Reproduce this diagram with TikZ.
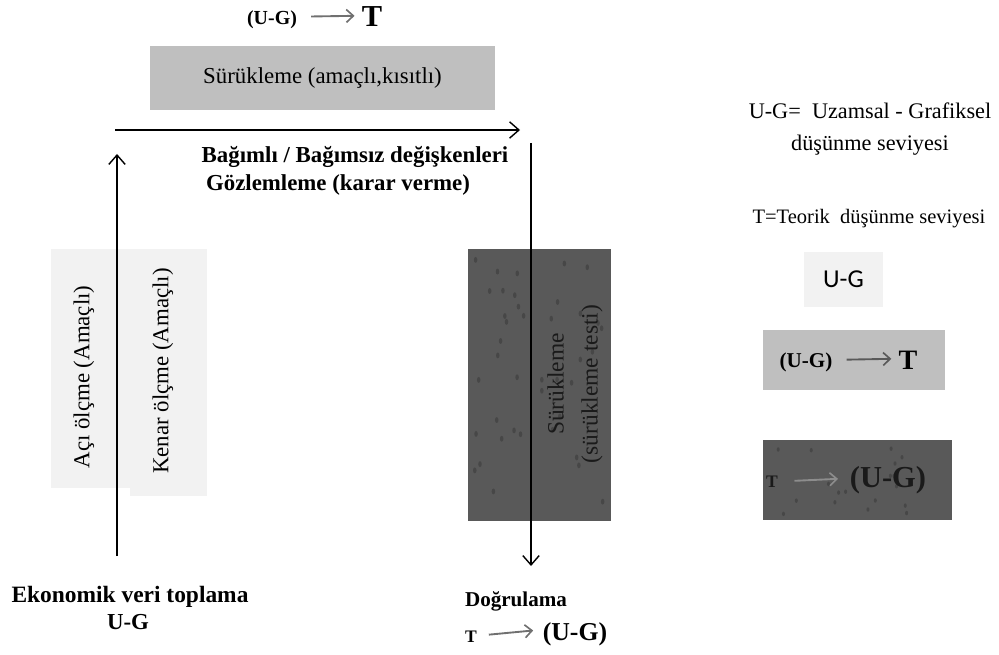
\documentclass[tikz,border=0pt]{standalone}
\usepackage{fontspec}
\setmainfont{Liberation Serif}
\newfontfamily\calib{Carlito}
\usetikzlibrary{arrows.meta}
\definecolor{boxlight}{HTML}{F2F2F2}
\definecolor{boxmid}{HTML}{BFBFBF}
\definecolor{boxdark}{HTML}{595959}
\definecolor{dotc}{HTML}{474747}
\definecolor{txtdark}{HTML}{1A1A1A}
\definecolor{arrgray}{HTML}{707070}
\tikzset{
  lightbox/.style={fill=boxlight, draw=none, inner sep=0pt},
  midbox/.style={fill=boxmid, draw=none, inner sep=0pt},
  darkbox/.style={fill=boxdark, draw=none, inner sep=0pt},
  mainarr/.style={line width=1.2pt, -{Straight Barb[length=8pt,width=14pt,line width=1.2pt]}},
  grayarr/.style={arrgray, line width=1.6pt, -{Straight Barb[length=6pt,width=11pt,line width=1.4pt]}},
  boldtxt/.style={font=\fontsize{19.5}{24}\selectfont\bfseries, align=center, inner sep=0pt},
  regtxt/.style={font=\fontsize{19.5}{26}\selectfont, align=center, inner sep=0pt},
  smallbold/.style={font=\fontsize{15}{17}\selectfont\bfseries, inner sep=0pt},
  bigbold/.style={font=\fontsize{24}{27}\selectfont\bfseries, inner sep=0pt},
}
\begin{document}
\begin{tikzpicture}[x=0.03cm, y=-0.03cm]
\useasboundingbox (0,0) rectangle (999,655);

% top label
\node[smallbold, font=\fontsize{17}{19}\selectfont\bfseries] (ugtop) at (272,20) {(U-G)};
\node[bigbold, font=\fontsize{26}{28}\selectfont\bfseries] (ttop) at (372,17) {T};
\draw[grayarr] ([xshift=12pt,yshift=3pt]ugtop.east) -- ([xshift=-6pt,yshift=1pt]ttop.west);

% top gray box
\node[midbox, minimum width=10.35cm, minimum height=1.92cm] (drag) at (322.5,78) {};
\node[regtxt] (dragtxt) at (drag) {Sürükleme (amaçlı,kısıtlı)};

% decision text
\node[boldtxt] (bag) at (355,157) {Bağımlı / Bağımsız değişkenleri};
\node[boldtxt] (goz) at (338,185) {Gözlemleme (karar verme)};

% left boxes
\node[lightbox, minimum width=2.37cm, minimum height=7.17cm] (aci) at (90.5,368.5) {};
\node[lightbox, minimum width=2.31cm, minimum height=7.41cm] (kenar) at (168.5,372.5) {};
\node[regtxt, rotate=90] (acitxt) at (84,377) {Açı ölçme (Amaçlı)};
\node[regtxt, rotate=90] (kenartxt) at (163,371) {Kenar ölçme (Amaçlı)};

% dark middle box
\node[darkbox, minimum width=4.29cm, minimum height=8.16cm] (test) at (539.5,385) {};
\pgfmathsetseed{11}
\foreach \i in {1,...,40}{
  \fill[dotc] ({474+rnd*132},{256+rnd*258}) ellipse (1.5pt and 2.5pt);
}
\node[regtxt, rotate=90, text=txtdark, font=\fontsize{20}{29}\selectfont] (testtxt) at (575,384) {Sürükleme\\(sürükleme testi)};

% main arrows
\coordinate (hstart) at (115,130);
\coordinate (hend) at (520,130);
\coordinate (upstart) at (117,556);
\coordinate (upend) at (117,154);
\coordinate (dnstart) at (531,143);
\coordinate (dnend) at (531,566);
\draw[mainarr] (hstart) -- (hend);
\draw[mainarr] (upstart) -- (upend);
\draw[mainarr] (dnstart) -- (dnend);

% bottom texts
\node[boldtxt, font=\fontsize{20}{24}\selectfont\bfseries] (eko) at (130,597) {Ekonomik veri toplama};
\node[boldtxt] (ugbot) at (128,622) {U-G};
\node[boldtxt, font=\fontsize{18}{20}\selectfont\bfseries] (dog) at (516,601) {Doğrulama};
\node[smallbold] (tbot) at (471,637) {T};
\node[bigbold, font=\fontsize{22}{25}\selectfont\bfseries] (ugbot2) at (575,634) {(U-G)};
\draw[grayarr] ([xshift=10pt,yshift=2pt]tbot.east) -- ([xshift=-8pt,yshift=3pt]ugbot2.west);

% legend
\node[regtxt, font=\fontsize{19}{27}\selectfont] (leg1) at (870,129) {U-G=\ \ Uzamsal - Grafiksel\\düşünme seviyesi};
\node[regtxt, font=\fontsize{17.5}{20}\selectfont] (leg2) at (869,219) {T=Teorik\ \ düşünme seviyesi};

\node[lightbox, minimum width=2.37cm, minimum height=1.65cm] (legug) at (843.5,279.5) {};
\node[font=\calib\fontsize{22}{24}\selectfont, inner sep=0pt] (legugtxt) at (legug) {U-G};

\node[midbox, minimum width=5.46cm, minimum height=1.8cm] (legmid) at (854,360) {};
\node[smallbold, font=\fontsize{18}{20}\selectfont\bfseries] (legmidug) at (806,362) {(U-G)};
\node[bigbold] (legmidt) at (908,360) {T};
\draw[grayarr, draw=boxdark] ([xshift=12pt,yshift=2pt]legmidug.east) -- ([xshift=-6pt,yshift=1pt]legmidt.west);

\node[darkbox, minimum width=5.67cm, minimum height=2.4cm] (legdark) at (857.5,480) {};
\pgfmathsetseed{5}
\foreach \i in {1,...,18}{
  \fill[dotc] ({768+rnd*179},{446+rnd*68}) ellipse (1.3pt and 1.9pt);
}
\node[smallbold, text=txtdark] (legdarkt) at (772,482) {T};
\node[bigbold, text=txtdark, font=\fontsize{26}{28}\selectfont\bfseries] (legdarkug) at (888,480) {(U-G)};
\draw[grayarr, draw=arrgray!80!white] ([xshift=14pt,yshift=1pt]legdarkt.east) -- ([xshift=-10pt,yshift=1pt]legdarkug.west);
\end{tikzpicture}
\end{document}
